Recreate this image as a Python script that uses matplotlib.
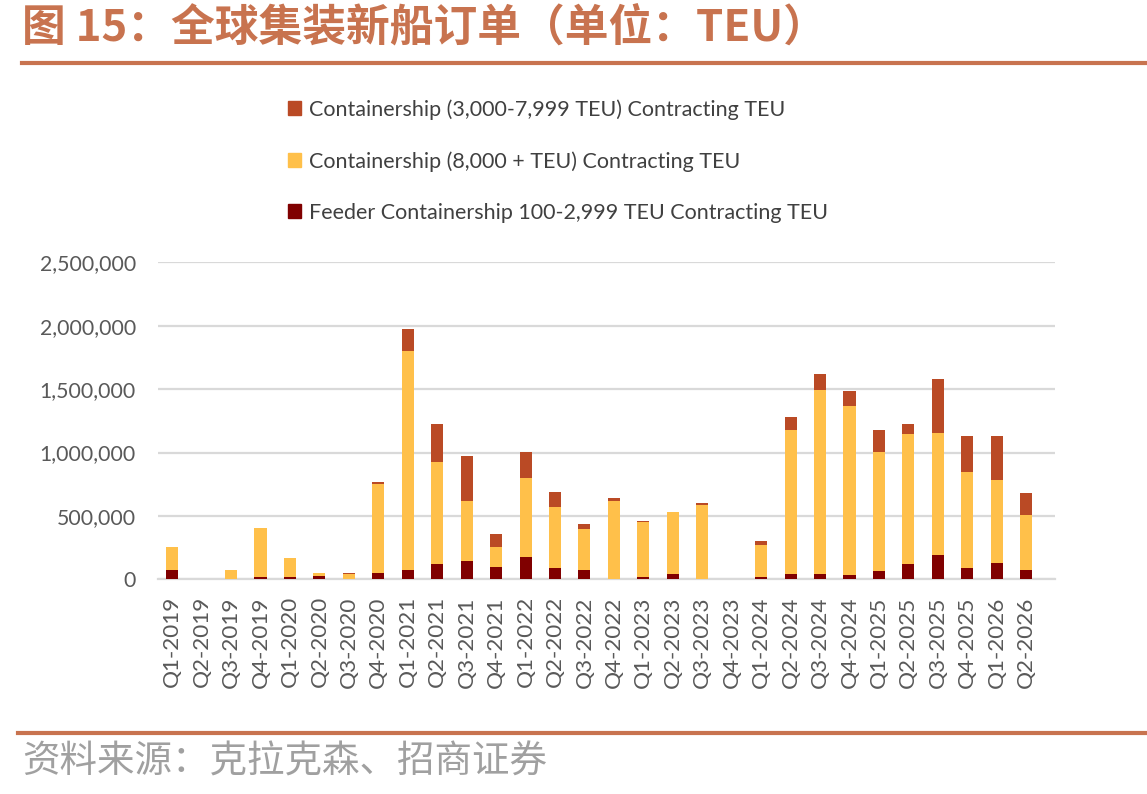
import matplotlib
matplotlib.use("Agg")
import matplotlib.pyplot as plt
from matplotlib.patches import Patch
from matplotlib.lines import Line2D
from matplotlib.ticker import FuncFormatter

quarters = ["Q1-2019", "Q2-2019", "Q3-2019", "Q4-2019", "Q1-2020", "Q2-2020", "Q3-2020", "Q4-2020",
            "Q1-2021", "Q2-2021", "Q3-2021", "Q4-2021", "Q1-2022", "Q2-2022", "Q3-2022", "Q4-2022",
            "Q1-2023", "Q2-2023", "Q3-2023", "Q4-2023", "Q1-2024", "Q2-2024", "Q3-2024", "Q4-2024",
            "Q1-2025", "Q2-2025", "Q3-2025", "Q4-2025", "Q1-2026", "Q2-2026"]

feeder = [75000, 0, 0, 22000, 22000, 28000, 5000, 54000,
          75000, 122000, 146000, 99000, 180000, 88000, 75000, 0,
          22000, 43000, 0, 0, 22000, 43000, 43000, 33000,
          65000, 122000, 191000, 88000, 133000, 75000]
large = [184000, 0, 75000, 385000, 145000, 22000, 38000, 700000,
         1727000, 806000, 476000, 160000, 622000, 487000, 321000, 622000,
         427000, 488000, 586000, 0, 248000, 1133000, 1451000, 1337000,
         942000, 1022000, 964000, 759000, 647000, 432000]
mid = [0, 0, 0, 0, 0, 4000, 10000, 16000,
       169000, 298000, 351000, 100000, 205000, 114000, 42000, 22000,
       13000, 3000, 16000, 0, 34000, 105000, 127000, 114000,
       171000, 82000, 421000, 284000, 351000, 171000]

label_mid = "Containership (3,000-7,999 TEU) Contracting TEU"
label_large = "Containership (8,000 + TEU) Contracting TEU"
label_feeder = "Feeder Containership 100-2,999 TEU Contracting TEU"

title = "图 15：全球集装新船订单（单位：TEU）"
source = "资料来源：克拉克森、招商证券"

c_mid = "#BA4A25"
c_large = "#FFC04A"
c_feeder = "#800000"
accent = "#C8734F"
tick_color = "#595959"

fig = plt.figure(figsize=(11.47, 7.94), dpi=100)
ax = fig.add_axes([0.1378, 0.2702, 0.7820, 0.3995])

x = list(range(len(quarters)))
w = 0.41
b2 = [f + l for f, l in zip(feeder, large)]
ax.bar(x, feeder, width=w, color=c_feeder, zorder=3)
ax.bar(x, large, width=w, bottom=feeder, color=c_large, zorder=3)
ax.bar(x, mid, width=w, bottom=b2, color=c_mid, zorder=3)

ax.set_ylim(0, 2500000)
ax.set_xlim(-0.48, 29.98)
ax.set_yticks([0, 500000, 1000000, 1500000, 2000000, 2500000])
ax.yaxis.set_major_formatter(FuncFormatter(lambda v, p: f"{int(v):,}"))
ax.grid(axis="y", color="#D9D9D9", linewidth=1.6, zorder=0)
for s in ["top", "right", "left"]:
    ax.spines[s].set_visible(False)
ax.spines["bottom"].set_color("#D9D9D9")
ax.spines["bottom"].set_linewidth(1.6)
ax.tick_params(axis="both", length=0, colors=tick_color)
ax.tick_params(axis="y", pad=16, labelsize=15.3)
ax.tick_params(axis="x", pad=12, labelsize=16.2)
ax.set_xticks(x)
ax.set_xticklabels(quarters, rotation=90, fontfamily="Lato")
for t in ax.get_yticklabels():
    t.set_fontfamily("Lato")

handles = [Patch(color=c_mid, label=label_mid),
           Patch(color=c_large, label=label_large),
           Patch(color=c_feeder, label=label_feeder)]
leg = fig.legend(handles=handles, loc="upper left", bbox_to_anchor=(0.244, 0.886),
                 frameon=False, prop={"family": "Lato", "size": 15.5},
                 handlelength=0.6, handleheight=0.6, handletextpad=0.35,
                 labelspacing=1.45, borderaxespad=0)
for t in leg.get_texts():
    t.set_color("#404040")

fig.text(0.019, 0.965, title, fontsize=31.5, fontweight="bold", color=accent,
         family=["Noto Sans CJK SC", "DejaVu Sans"], va="center", ha="left")
fig.add_artist(Line2D([0.019, 1.0], [0.921, 0.921], color=accent, linewidth=3))
fig.add_artist(Line2D([0.016, 1.0], [0.077, 0.077], color=accent, linewidth=3))
fig.text(0.019, 0.040, source, fontsize=27, color="#A0A0A0",
         family=["Noto Sans CJK SC", "DejaVu Sans"], va="center", ha="left")

fig.savefig("out.png", dpi=100)
